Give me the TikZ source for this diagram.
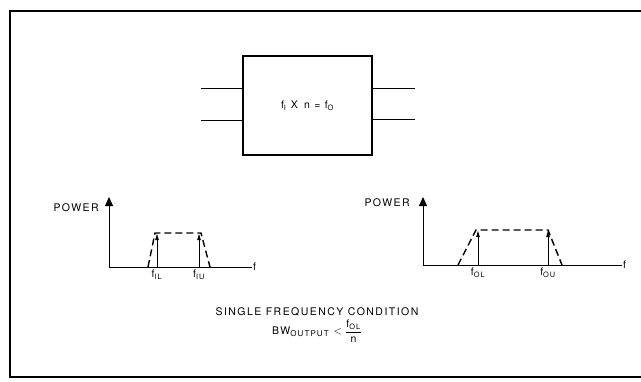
\documentclass[tikz,border=0pt]{standalone}
\usepackage{fontspec}
\setmainfont{TeX Gyre Heros}[LetterSpace=14]
\usetikzlibrary{
  arrows.meta,
  positioning
}
\newcommand{\lo}[1]{\textsubscript{#1}}

\begin{document}
\begin{tikzpicture}[
  x=1pt,
  y=-1pt,
  font=\fontsize{10.5}{12}\selectfont,
  block/.style={
    draw,
    line width=1.2pt,
    minimum width=129pt,
    minimum height=99pt,
    inner sep=0pt
  },
  wire/.style={
    line width=1pt
  },
  axis/.style={
    line width=1pt,
    -{Triangle[width=8pt,length=9pt]}
  },
  spec/.style={
    line width=1.4pt,
    dash pattern=on 7pt off 4pt
  },
  tone/.style={
    line width=0.8pt,
    -{Triangle[width=3.5pt,length=6pt]}
  },
  lbl/.style={
    inner sep=1pt
  }
]

\useasboundingbox (0,0) rectangle (641,381);
\draw[line width=1.5pt] (641,11) -- (10,11) -- (10,377) -- (641,377);

% multiplier block
\node[block] (mult) at (307.5,105.5) {f\lo{I} X\, n = f\lo{O}};
\coordinate (inA) at (201,88);
\coordinate (inB) at (201,120);
\coordinate (outA) at (415,88);
\coordinate (outB) at (415,119);
\draw[wire] (inA) -- (inA -| mult.west);
\draw[wire] (inB) -- (inB -| mult.west);
\draw[wire] (outA -| mult.east) -- (outA);
\draw[wire] (outB -| mult.east) -- (outB);

% input spectrum
\coordinate (o1) at (109,267);
\coordinate (y1) at (109,197);
\coordinate (x1) at (252,267);
\draw[axis] (o1) -- (y1);
\draw[line width=1pt] (o1) -- (x1);
\node[lbl,anchor=east] (pow1) at (100,208) {POWER};
\node[lbl,anchor=west] (f1) at (x1) {f};
\coordinate (il) at (157,267);
\coordinate (iu) at (199,267);
\draw[spec] (148,267) -- (155,233) -- (201,233) -- (210,267);
\draw[tone] (il) -- (157,234);
\draw[tone] (iu) -- (199,234);
\node[lbl,below=2pt of il] (fil) {f\lo{IL}};
\node[lbl,below=2pt of iu] (fiu) {f\lo{IU}};

% output spectrum
\coordinate (o2) at (423,265);
\coordinate (y2) at (423,197);
\coordinate (x2) at (622,265);
\draw[axis] (o2) -- (y2);
\draw[line width=1pt] (o2) -- (x2);
\node[lbl,anchor=east] (pow2) at (411,203) {POWER};
\node[lbl,anchor=west] (f2) at (x2) {f};
\coordinate (ol) at (478,265);
\coordinate (ou) at (548,265);
\draw[spec] (458,265) -- (476,230) -- (548,230) -- (562,265);
\draw[tone] (ol) -- (478,231);
\draw[tone] (ou) -- (548,231);
\node[lbl,below=2pt of ol] (fol) {f\lo{OL}};
\node[lbl,below=2pt of ou] (fou) {f\lo{OU}};

% condition
\node[lbl] (cond) at (317,312) {SINGLE FREQUENCY CONDITION};
\node[lbl,below=1pt of cond] (bw)
  {BW\lo{\footnotesize OUTPUT} $<\displaystyle\frac{\mbox{f\lo{OL}}}{\mbox{n}}$};

\end{tikzpicture}
\end{document}
